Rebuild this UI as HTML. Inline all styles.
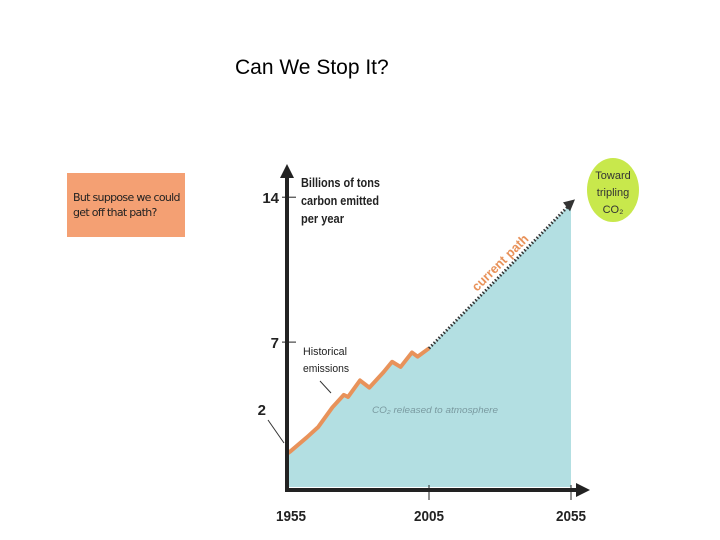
<!DOCTYPE html>
<html><head><meta charset="utf-8"><style>
body{margin:0;width:720px;height:540px;background:#fff;overflow:hidden;position:relative;font-family:"Liberation Sans",sans-serif}
</style></head><body>
<div style="position:absolute;left:235px;top:56px;font-size:21px;color:#000">Can We Stop It?</div>
<div style="position:absolute;left:67px;top:173px;width:118px;height:64px;background:#f4a073;font-family:'DejaVu Sans',sans-serif;font-size:11px;color:#222;box-sizing:border-box;padding:17px 0 0 6px;line-height:15px;letter-spacing:-0.7px;white-space:nowrap">But suppose we could<br>get off that path?</div>
<svg id="chart" width="720" height="540" style="position:absolute;left:0;top:0">
</svg>
<script>
const years=[1955,1956,1962,1966,1971,1975,1976.5,1980.7,1984,1989,1992,1995,1999,2001,2005];
const values=[1.6,1.7,2.4,2.9,3.85,4.45,4.35,5.15,4.8,5.55,6.05,5.8,6.5,6.3,6.7];
const projYears=[2005,2055];
const projValues=[6.7,13.7];
const yTicks=[2,7,14];
const xTicks=[1955,2005,2055];
const NS='http://www.w3.org/2000/svg';
const svg=document.getElementById('chart');
const X=y=>287+(y-1955)*142/50;
const Y=v=>487-v*20.7;
function mk(t,a,p){const e=document.createElementNS(NS,t);for(const k in a)e.setAttribute(k,a[k]);(p||svg).appendChild(e);return e;}
let d='M'+X(years[0])+','+Y(0);
years.forEach((y,i)=>d+=' L'+X(y)+','+Y(values[i]));
d+=' L'+X(projYears[1])+','+Y(projValues[1])+' L'+X(projYears[1])+','+Y(0)+'Z';
const area=mk('path',{d:d,fill:'#b3dfe2'});


const lbl=mk('text',{x:435,y:413,'font-size':9,'font-style':'italic',fill:'#7a9aa0','text-anchor':'middle',textLength:126,lengthAdjust:'spacingAndGlyphs'});
lbl.textContent='CO₂ released to atmosphere';


const hl=mk('polyline',{points:years.map((y,i)=>X(y)+','+Y(values[i])).join(' '),fill:'none',stroke:'#e8925a','stroke-width':4,'stroke-linejoin':'round'});


const pl=mk('line',{x1:X(projYears[0]),y1:Y(projValues[0]),x2:X(projYears[1]),y2:Y(projValues[1]),stroke:'#333','stroke-width':3,'stroke-dasharray':'1.5 2'});


const ph=mk('polygon',{points:(X(projYears[1])+4)+','+(Y(projValues[1])-4)+' '+(X(projYears[1])-8)+','+(Y(projValues[1])-1)+' '+(X(projYears[1])-1)+','+(Y(projValues[1])+8),fill:'#333'});


const cp=mk('text',{x:0,y:0,'font-size':13,'font-weight':'bold',fill:'#e8925a',transform:'translate(477,292) rotate(-45)',textLength:74,lengthAdjust:'spacingAndGlyphs'});
cp.textContent='current path';


const ya=mk('line',{x1:287,y1:490,x2:287,y2:175,stroke:'#222','stroke-width':4});


mk('polygon',{points:'280,178 294,178 287,164',fill:'#222'});
const xa=mk('line',{x1:285,y1:490,x2:578,y2:490,stroke:'#222','stroke-width':4});


mk('polygon',{points:'576,483 576,497 590,490',fill:'#222'});
yTicks.forEach(v=>{
  let ty=Y(v)+6;
  if(v!==2){mk('line',{x1:282,y1:Y(v),x2:296,y2:Y(v),stroke:'#222','stroke-width':1});}
  else ty=415;
  const t=mk('text',{x:v===2?266:279,y:ty,'font-size':15,'font-weight':'bold','text-anchor':'end',fill:'#222'});
  t.textContent=v;
  
  
});
mk('line',{x1:268,y1:420,x2:284,y2:443,stroke:'#333','stroke-width':1});
xTicks.forEach(v=>{
  if(v!==1955)mk('line',{x1:X(v),y1:485,x2:X(v),y2:500,stroke:'#222','stroke-width':1});
  const t=mk('text',{x:X(v)+(v===1955?4:0),y:521,'font-size':15,'font-weight':'bold','text-anchor':'middle',fill:'#222',textLength:30,lengthAdjust:'spacingAndGlyphs'});
  t.textContent=v;
  
  
});
[['Billions of tons',79],['carbon emitted',78],['per year',43]].forEach((s,i)=>{
  const t=mk('text',{x:301,y:187+i*18,'font-size':12.5,'font-weight':'bold',fill:'#222',textLength:s[1],lengthAdjust:'spacingAndGlyphs'});
  t.textContent=s[0];
  
  
});
[['Historical',44],['emissions',46]].forEach((s,i)=>{
  const t=mk('text',{x:303,y:355+i*17,'font-size':11,fill:'#222',textLength:s[1],lengthAdjust:'spacingAndGlyphs'});
  t.textContent=s[0];
  
  
});
mk('line',{x1:320,y1:381,x2:331,y2:393,stroke:'#333','stroke-width':1});
const c=mk('ellipse',{cx:613,cy:190,rx:26,ry:32,fill:'#c8e84c'});


['Toward','tripling','CO₂'].forEach((s,i)=>{
  const t=mk('text',{x:613,y:179+i*17,'font-size':11,'text-anchor':'middle',fill:'#333'});
  t.textContent=s;
  
  
});
</script>
</body></html>
